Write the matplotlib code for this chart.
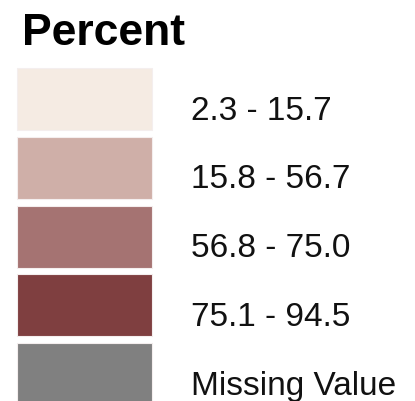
import matplotlib.pyplot as plt
import numpy as np

title = 'Percent'
class_labels = ['2.3 - 15.7', '15.8 - 56.7', '56.8 - 75.0', '75.1 - 94.5', 'Missing Value']
class_colors = ['#F5EBE3', '#CFAFA8', '#A57372', '#7F3F40', '#808080']

fig = plt.figure(figsize=(4.15, 4.01), dpi=100)
ax = fig.add_axes([0, 0, 1, 1])
ax.set_xlim(0, 415)
ax.set_ylim(401, 0)
ax.axis('off')

# swatches stacked down the left side, one per class
step = 68.75
box_h = 62
y = 68 + box_h / 2 + step * np.arange(len(class_labels))
ax.barh(y, 135, left=17, height=box_h, color=class_colors,
        edgecolor='#f4eeee', linewidth=0.8)

for yi, lab in zip(y, class_labels):
    ax.text(191, yi + 20.5, lab, ha='left', va='baseline', fontsize=24,
            family=['Liberation Sans', 'DejaVu Sans'], color='#111111')

ax.text(22, 45, title, ha='left', va='baseline', fontsize=32, fontweight='bold',
        family=['Liberation Sans', 'DejaVu Sans'], color='black')

plt.savefig('out.png', dpi=100)
